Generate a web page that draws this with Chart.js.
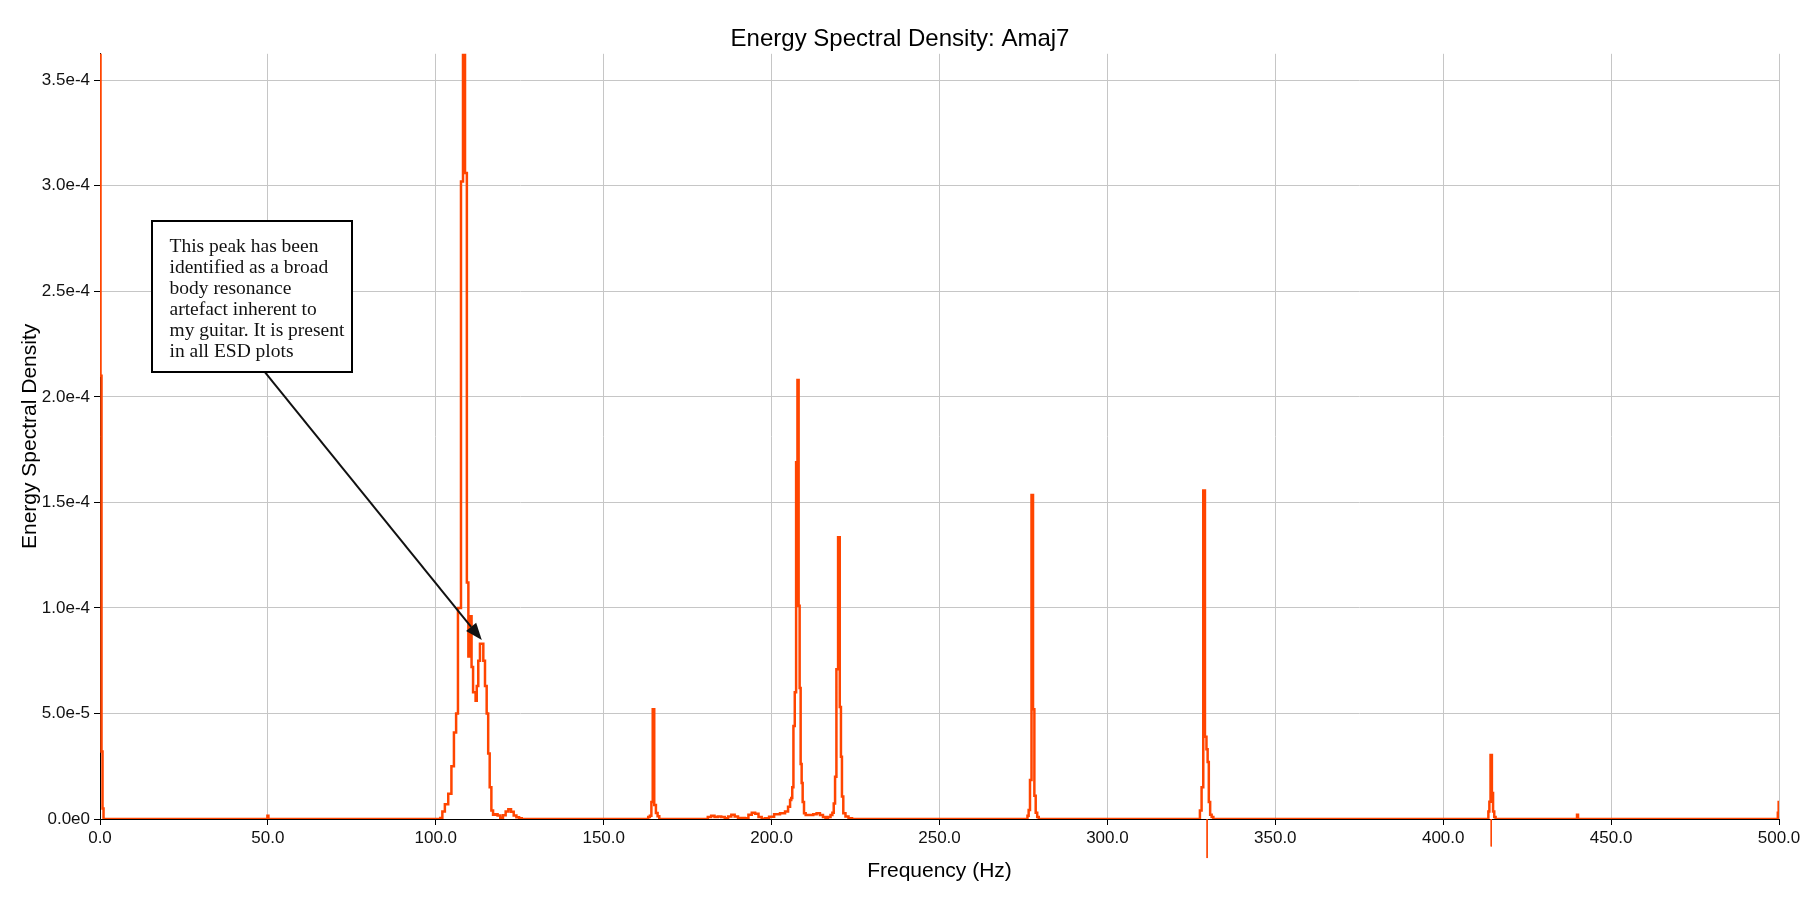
<!DOCTYPE html>
<html>
<head>
<meta charset="utf-8">
<title>Energy Spectral Density: Amaj7</title>
<script src="https://cdn.jsdelivr.net/npm/chart.js@4.4.1/dist/chart.umd.min.js"></script>
<style>
  html, body { margin: 0; padding: 0; background: #ffffff; }
  #chart { display: block; }
</style>
</head>
<body>
<canvas id="chart" width="1800" height="900"></canvas>
<script>
// ---------------- DATA ----------------
const freqHz = [
  0, 0.3, 0.6, 0.9, 1.2,
  49.7, 50.0, 50.3,
  101.0, 101.7, 102.2, 103.2, 104.2, 105.1, 105.7, 106.4, 106.8, 107.2, 107.8, 108.4, 109.0, 109.5, 109.9, 110.4, 110.9,
  111.3, 111.7, 112.0, 112.4, 112.9, 113.4, 113.9, 114.4, 114.9, 115.4, 115.8, 116.3, 116.8, 117.3,
  118.0, 118.8, 119.6, 120.4, 121.2, 122.0, 122.8, 123.6, 124.4, 125.2, 126.0,
  163.0, 163.5, 164.0, 164.4, 164.8, 165.3, 165.8, 166.3, 166.8,
  180.5, 181.5, 182.5, 183.5, 184.5, 185.5, 186.6, 187.5, 188.5, 189.5, 190.5, 191.5, 192.6, 193.6, 194.6, 195.6,
  196.6, 197.5, 198.5, 200.0, 201.5, 203.5, 204.5, 205.3, 205.7, 206.0, 206.3, 206.7, 207.1, 207.5, 207.9, 208.2,
  208.5, 208.8, 209.1, 209.4, 209.9, 210.4, 211.2, 211.9, 212.9, 213.9, 214.9, 215.7, 216.4, 217.2, 217.9, 218.3,
  218.7, 219.1, 219.5, 220.1, 220.5, 220.8, 221.1, 221.6, 222.4, 223.4, 224.5,
  276.0, 276.4, 276.7, 277.2, 277.6, 278.1, 278.4, 278.9, 279.3, 279.8,
  327.3, 327.8, 328.3, 328.8, 329.3, 329.7, 330.0, 330.4, 330.8, 331.3, 331.8,
  413.3, 413.6, 413.9, 414.3, 414.7, 415.0, 415.4, 415.8,
  439.7, 440.0, 440.3,
  499.5, 499.8, 500.0
];
const esdValues = [
  4.2e-4, 2.1e-4, 3.2e-5, 5e-6, 0,
  0, 1.5e-6, 0,
  0, 5e-7, 3.5e-6, 7e-6, 1.2e-5, 2.5e-5, 4.1e-5, 5.0e-5, 1.0e-4, 1.0e-4, 3.02e-4, 4.2e-4, 3.06e-4, 1.12e-4, 7.7e-5, 9.6e-5, 7.2e-5,
  6.0e-5, 6.0e-5, 5.6e-5, 6.3e-5, 7.5e-5, 8.3e-5, 8.3e-5, 7.5e-5, 6.3e-5, 5.0e-5, 3.1e-5, 1.5e-5, 4e-6, 2e-6,
  2.2e-6, 1.6e-6, 6e-7, 1.8e-6, 3.5e-6, 4.6e-6, 3.4e-6, 1.6e-6, 8e-7, 3e-7, 0,
  0, 1e-6, 1.5e-6, 8e-6, 5.2e-5, 6.6e-6, 2.8e-6, 1.3e-6, 0,
  0, 1e-6, 1.5e-6, 1e-6, 1.2e-6, 1e-6, 3e-7, 1.2e-6, 2e-6, 1.2e-6, 5e-7, 5e-7, 3e-7, 2e-6, 3e-6, 2.5e-6,
  1e-6, 0, 3e-7, 1.1e-6, 2.2e-6, 2.7e-6, 3.5e-6, 5.8e-6, 9e-6, 1e-5, 1.5e-5, 4.4e-5, 6e-5, 1.69e-4, 2.08e-4, 1.01e-4,
  6.2e-5, 2.6e-5, 1.7e-5, 8e-6, 2.7e-6, 1.9e-6, 1.9e-6, 1.9e-6, 2.2e-6, 2.7e-6, 1.9e-6, 1e-6, 3e-7, 1e-6, 1.9e-6, 3e-6,
  7.4e-6, 2e-5, 7.1e-5, 1.335e-4, 5.3e-5, 2.95e-5, 1.06e-5, 2.7e-6, 1.2e-6, 3e-7, 0,
  0, 1.5e-6, 4.3e-6, 1.85e-5, 1.535e-4, 5.2e-5, 1.1e-5, 3e-6, 1e-6, 0,
  0, 4e-6, 1.5e-5, 1.556e-4, 3.9e-5, 3.3e-5, 2.7e-5, 8e-6, 2e-6, 1e-6, 0,
  0, 3.5e-6, 8.2e-6, 3.03e-5, 1.23e-5, 3.5e-6, 1e-6, 0,
  0, 2e-6, 0,
  0, 3e-6, 8e-6
];
// thin drop lines below the axis seen in the original plot
const dropFreqs = [329.7, 414.3];
const dropDepths = [-1.85e-5, -1.3e-5];

// ticks
const xTickValues = [0, 50, 100, 150, 200, 250, 300, 350, 400, 450, 500];
const xTickLabels = ["0.0", "50.0", "100.0", "150.0", "200.0", "250.0", "300.0", "350.0", "400.0", "450.0", "500.0"];
const yTickValues = [0, 5e-5, 1e-4, 1.5e-4, 2e-4, 2.5e-4, 3e-4, 3.5e-4];
const yTickLabels = ["0.0e0", "5.0e-5", "1.0e-4", "1.5e-4", "2.0e-4", "2.5e-4", "3.0e-4", "3.5e-4"];
const xRange = [0, 500];
const yRange = [0, 3.625e-4];

// annotation (data coordinates)
const noteLines = [
  "This peak has been",
  "identified as a broad",
  "body resonance",
  "artefact inherent to",
  "my guitar. It is present",
  "in all ESD plots"
];
const noteBoxHz = [15.4, 75.1];
const noteBoxEsd = [2.835e-4, 2.117e-4];
const arrowFrom = [49.1, 2.117e-4];
const arrowTo = [113.7, 8.48e-5];

// ---------------- CHART ----------------
const FONT = '"Liberation Sans", Arial, Helvetica, sans-serif';
Chart.defaults.font.family = FONT;
Chart.defaults.color = '#000';

const spectrum = freqHz.map((f, i) => ({ x: f, y: esdValues[i] }));
const drops = [];
dropFreqs.forEach((f, i) => {
  if (i > 0) drops.push({ x: f, y: null });
  drops.push({ x: f, y: 0 });
  drops.push({ x: f, y: dropDepths[i] });
});

const notePlugin = {
  id: 'noteBox',
  afterDatasetsDraw(chart) {
    const { ctx } = chart;
    const xs = chart.scales.x, ys = chart.scales.y;
    const L = Math.round(xs.getPixelForValue(noteBoxHz[0]));
    const R = Math.round(xs.getPixelForValue(noteBoxHz[1]));
    const T = Math.round(ys.getPixelForValue(noteBoxEsd[0]));
    const B = Math.round(ys.getPixelForValue(noteBoxEsd[1]));
    const sx = xs.getPixelForValue(arrowFrom[0]), sy = ys.getPixelForValue(arrowFrom[1]);
    const ex = xs.getPixelForValue(arrowTo[0]), ey = ys.getPixelForValue(arrowTo[1]);
    ctx.save();
    // arrow
    const ang = Math.atan2(ey - sy, ex - sx);
    const headLen = 17, headW = 6.5;
    const bx = ex - headLen * Math.cos(ang), by = ey - headLen * Math.sin(ang);
    ctx.strokeStyle = '#111';
    ctx.lineWidth = 2;
    ctx.beginPath();
    ctx.moveTo(sx, sy);
    ctx.lineTo(bx, by);
    ctx.stroke();
    ctx.fillStyle = '#111';
    ctx.beginPath();
    ctx.moveTo(ex, ey);
    ctx.lineTo(bx + headW * Math.sin(ang), by - headW * Math.cos(ang));
    ctx.lineTo(bx - headW * Math.sin(ang), by + headW * Math.cos(ang));
    ctx.closePath();
    ctx.fill();
    // box
    ctx.fillStyle = '#ffffff';
    ctx.fillRect(L, T, R - L, B - T);
    ctx.strokeStyle = '#000';
    ctx.lineWidth = 2;
    ctx.strokeRect(L, T, R - L, B - T);
    // text
    ctx.fillStyle = '#111';
    ctx.font = '19.5px "Liberation Serif", "Times New Roman", serif';
    ctx.textAlign = 'left';
    ctx.textBaseline = 'alphabetic';
    noteLines.forEach((line, i) => {
      ctx.fillText(line, L + 17.5, T + 31 + i * 21);
    });
    ctx.restore();
  }
};

new Chart(document.getElementById('chart'), {
  type: 'line',
  data: {
    datasets: [
      {
        label: 'ESD',
        data: spectrum,
        borderColor: '#FF4500',
        backgroundColor: '#FF4500',
        borderWidth: 2.5,
        pointRadius: 0,
        pointHoverRadius: 0,
        stepped: 'middle',
        fill: false,
        tension: 0
      },
      {
        label: 'drops',
        data: drops,
        borderColor: '#FF4500',
        borderWidth: 1,
        pointRadius: 0,
        spanGaps: false,
        clip: false,
        fill: false
      }
    ]
  },
  options: {
    responsive: false,
    animation: false,
    devicePixelRatio: 1,
    layout: { padding: { left: 0, right: 0, top: 0, bottom: 0 } },
    plugins: {
      legend: { display: false },
      tooltip: { enabled: false },
      title: {
        display: true,
        text: 'Energy Spectral Density: Amaj7',
        color: '#000',
        font: { family: FONT, size: 24, weight: 'normal' },
        padding: { top: 25, bottom: 0 }
      }
    },
    scales: {
      x: {
        type: 'linear',
        min: xRange[0],
        max: xRange[1],
        afterBuildTicks: (axis) => { axis.ticks = xTickValues.map(v => ({ value: v })); },
        afterFit: (axis) => { axis.height = 81; axis.paddingRight = 21; },
        ticks: {
          callback: (value, index) => xTickLabels[index],
          color: '#111',
          font: { family: FONT, size: 17 },
          padding: 3,
          maxRotation: 0,
          autoSkip: false
        },
        grid: { color: '#c6c6c6', lineWidth: 1, tickColor: '#000', tickLength: 6, drawTicks: true },
        border: { display: true, color: '#000', width: 1 },
        title: {
          display: true,
          text: 'Frequency (Hz)',
          color: '#000',
          font: { family: FONT, size: 21 },
          padding: { top: 4, bottom: 16 }
        }
      },
      y: {
        type: 'linear',
        min: yRange[0],
        max: yRange[1],
        afterBuildTicks: (axis) => { axis.ticks = yTickValues.map(v => ({ value: v })); },
        afterFit: (axis) => { axis.width = 100; },
        ticks: {
          callback: (value, index) => yTickLabels[index],
          color: '#111',
          font: { family: FONT, size: 17 },
          padding: 4,
          autoSkip: false
        },
        grid: { color: '#c6c6c6', lineWidth: 1, tickColor: '#000', tickLength: 6, drawTicks: true },
        border: { display: true, color: '#000', width: 1 },
        title: {
          display: true,
          text: 'Energy Spectral Density',
          color: '#000',
          font: { family: FONT, size: 21 },
          padding: { top: 18, bottom: 4 }
        }
      }
    }
  },
  plugins: [notePlugin]
});
</script>
</body>
</html>
